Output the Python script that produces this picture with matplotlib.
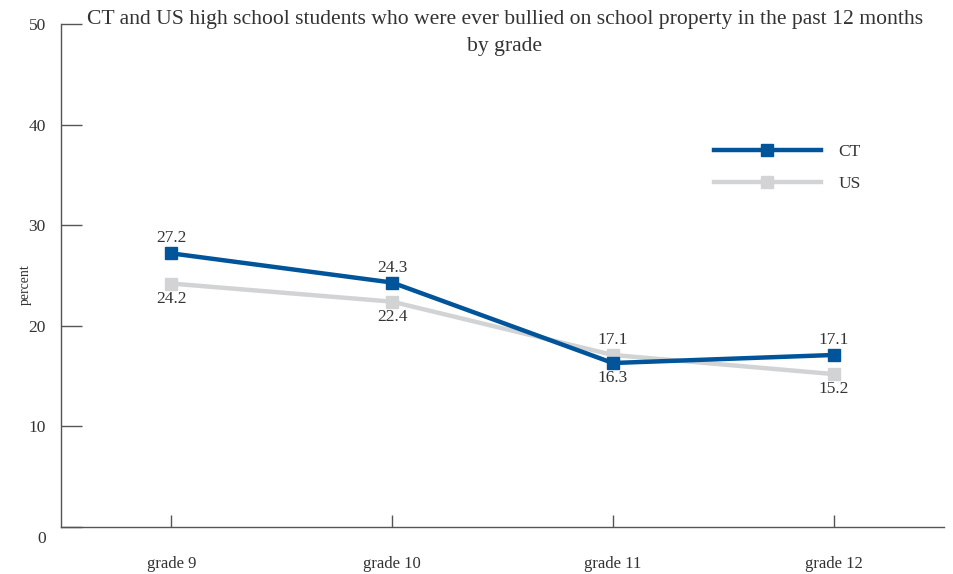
import numpy as np
import matplotlib
matplotlib.use("Agg")
import matplotlib.pyplot as plt
from matplotlib.transforms import ScaledTranslation

plt.rcParams['font.family'] = ['Liberation Serif', 'DejaVu Serif']

# data
grades = ['grade 9', 'grade 10', 'grade 11', 'grade 12']
ct_vals = [27.2, 24.3, 16.3, 17.1]
us_vals = [24.2, 22.4, 17.1, 15.2]
# label above (+1) or below (-1) the point
ct_pos = [1, 1, -1, 1]
us_pos = [-1, -1, 1, -1]

ct_col = '#00559a'
us_col = '#d2d3d5'
txt_col = '#333333'
ax_col = '#555555'

fig = plt.figure(figsize=(9.54, 5.74), dpi=100)
ax = fig.add_axes([61/954, 1-527/574, (944-61)/954, (527-24)/574])

x = np.arange(len(grades))
ax.plot(x, us_vals, color=us_col, lw=3.2, marker='s', ms=8, label='US', zorder=2)
ax.plot(x, ct_vals, color=ct_col, lw=3.2, marker='s', ms=8, label='CT', zorder=3)

# value labels
for xi, v, p in zip(x, ct_vals, ct_pos):
    ax.annotate(f'{v}', (xi, v), xytext=(0, 15*p), textcoords='offset pixels',
                ha='center', va='center', fontsize=12.5, color=txt_col)
for xi, v, p in zip(x, us_vals, us_pos):
    ax.annotate(f'{v}', (xi, v), xytext=(0, 15*p), textcoords='offset pixels',
                ha='center', va='center', fontsize=12.5, color=txt_col)

ax.set_xlim(-0.5, 3.5)
ax.set_ylim(0, 50)
ax.set_yticks([0, 10, 20, 30, 40, 50])
ax.set_xticks(x)
ax.set_xticklabels(grades)

for s in ['top', 'right']:
    ax.spines[s].set_visible(False)
for s in ['left', 'bottom']:
    ax.spines[s].set_color(ax_col)
    ax.spines[s].set_linewidth(1.0)

ax.tick_params(axis='y', direction='in', length=15, width=1, color=ax_col,
               labelsize=12.5, labelcolor=txt_col, pad=11)
ax.tick_params(axis='x', direction='in', length=9, width=1, color=ax_col,
               labelsize=12, labelcolor=txt_col, pad=21)

# the zero label sits a little lower in the original
zl = ax.get_yticklabels()[0]
zl.set_transform(zl.get_transform() + ScaledTranslation(0, -0.10, fig.dpi_scale_trans))

fig.text(25/954, 1-285/574, 'percent', rotation=90, fontsize=10, color=txt_col,
         ha='center', va='center')

fig.text(505/954, 1-33/574,
         'CT and US high school students who were ever bullied on school property in the past 12 months\nby grade',
         fontsize=15.6, color=txt_col, linespacing=1.6, ha='center', va='center')

h, l = ax.get_legend_handles_labels()
leg = ax.legend(h[::-1], l[::-1], loc='upper left', bbox_to_anchor=(698/954, 1-128/574),
                bbox_transform=fig.transFigure, frameon=False, fontsize=12.5,
                handlelength=6.2, numpoints=1, labelspacing=0.95, handletextpad=1.0)
for t in leg.get_texts():
    t.set_color(txt_col)

fig.savefig('out.png', dpi=100)
